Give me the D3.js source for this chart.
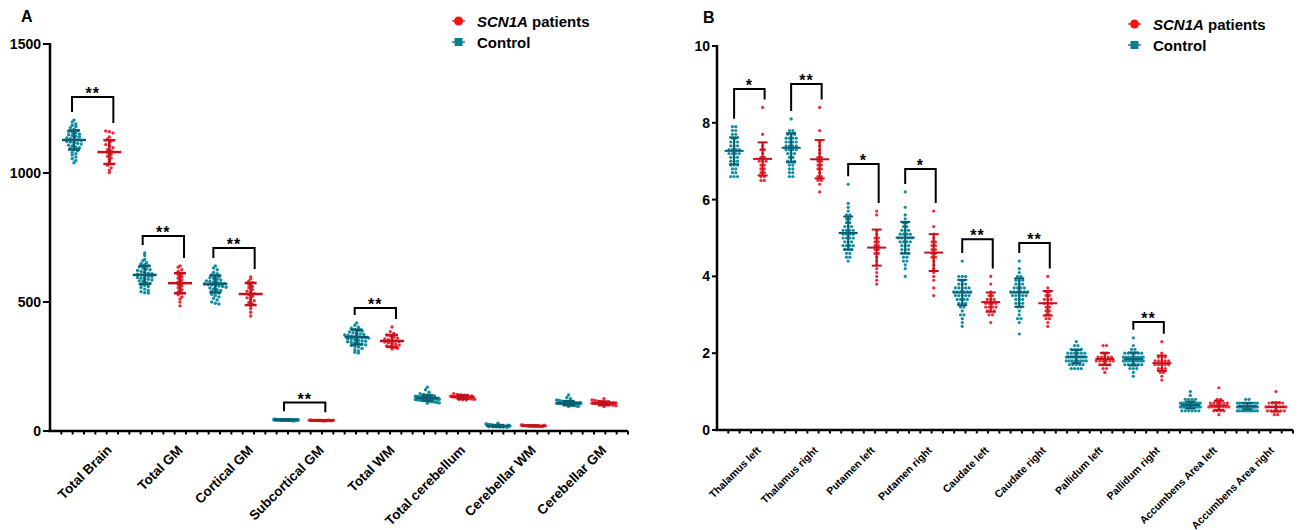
<!DOCTYPE html>
<html>
<head>
<meta charset="utf-8">
<script src="https://cdn.jsdelivr.net/npm/d3@7"></script>
<style>
  body { margin: 0; background: #fff; }
  svg { display: block; font-family: Arial, 'Liberation Sans', sans-serif; }
</style>
</head>
<body>
<svg id="viz"></svg>
<script>
// ---------- DATA: panel A (volumes) ----------
const catsA = ['Total Brain', 'Total GM', 'Cortical GM', 'Subcortical GM', 'Total WM',
  'Total cerebellum', 'Cerebellar WM', 'Cerebellar GM'];
const ticksA = [0, 500, 1000, 1500];

const ctrlA = [
  [1205, 1198, 1190, 1185, 1180, 1176, 1170, 1165, 1162, 1158, 1155, 1150, 1148, 1145, 1142, 1140, 1136, 1133, 1130, 1128,
   1126, 1122, 1120, 1118, 1115, 1112, 1108, 1105, 1100, 1098, 1095, 1090, 1086, 1080, 1075, 1070, 1062, 1055, 1048, 1040],
  [690, 680, 665, 660, 652, 648, 645, 640, 636, 632, 628, 625, 622, 618, 615, 612, 610, 608, 605, 603,
   600, 598, 595, 592, 590, 588, 585, 582, 580, 575, 572, 568, 565, 560, 556, 550, 545, 540, 536, 535],
  [640, 632, 625, 615, 610, 605, 600, 597, 594, 591, 588, 585, 582, 580, 578, 576, 574, 572, 570, 568,
   566, 564, 562, 560, 557, 554, 551, 548, 545, 542, 539, 535, 530, 525, 520, 515, 508, 500, 495, 492],
  [46, 46, 45, 45, 45, 44, 44, 44, 44, 44, 43, 43, 43, 43, 43, 43, 43, 43, 42, 42,
   42, 42, 42, 42, 42, 41, 41, 41, 41, 41, 40, 40, 40, 44, 45, 43, 42, 44, 43, 42],
  [419, 410, 402, 398, 393, 390, 387, 384, 381, 378, 376, 374, 372, 370, 368, 366, 365, 363, 361, 360,
   358, 356, 354, 352, 350, 348, 346, 344, 342, 340, 337, 334, 331, 328, 325, 320, 315, 310, 305, 302],
  [170, 160, 150, 145, 142, 140, 138, 136, 135, 134, 133, 132, 131, 130, 130, 129, 128, 128, 127, 126,
   126, 125, 124, 124, 123, 122, 121, 120, 120, 119, 118, 117, 116, 115, 114, 113, 112, 110, 109, 108],
  [30, 27, 26, 25, 24, 24, 23, 23, 22, 22, 22, 21, 21, 21, 21, 20, 20, 20, 20, 20,
   19, 19, 19, 19, 18, 18, 18, 18, 17, 17, 17, 16, 16, 16, 15, 15, 14, 22, 21, 19],
  [140, 130, 125, 120, 118, 116, 115, 114, 113, 112, 111, 110, 110, 109, 109, 108, 108, 107, 107, 106,
   106, 105, 105, 104, 104, 103, 103, 102, 102, 101, 100, 100, 99, 98, 97, 96, 95, 110, 108, 106]
];
const patA = [
  [1163, 1160, 1155, 1140, 1132, 1125, 1118, 1110, 1105, 1098, 1090, 1085, 1080, 1072, 1065, 1058, 1050, 1040, 1030, 1020, 1010, 1002],
  [640, 635, 625, 618, 610, 605, 598, 592, 585, 578, 572, 568, 562, 555, 548, 540, 535, 528, 520, 512, 500, 485],
  [597, 590, 582, 575, 568, 560, 555, 548, 542, 536, 532, 528, 522, 516, 510, 505, 498, 492, 485, 475, 460, 446],
  [42, 42, 42, 41, 41, 41, 41, 41, 41, 41, 41, 40, 40, 40, 40, 40, 41, 42, 41, 40, 41, 42],
  [403, 385, 378, 372, 368, 364, 360, 357, 354, 351, 349, 347, 345, 342, 339, 336, 333, 330, 327, 324, 321, 318],
  [145, 142, 140, 138, 137, 136, 135, 134, 133, 132, 131, 130, 129, 128, 127, 126, 125, 124, 123, 122, 121, 120],
  [23, 22, 22, 21, 21, 21, 20, 20, 20, 20, 20, 19, 19, 19, 19, 18, 18, 18, 17, 17, 22, 20],
  [125, 120, 118, 116, 115, 114, 113, 112, 111, 110, 110, 109, 108, 107, 106, 105, 104, 103, 102, 100, 98, 95]
];
const ctrlMeanA = [1128, 605, 570, 43, 364, 128, 20, 108];
const ctrlSdA = [37, 35, 33, 1.5, 29, 10, 3, 8];
const patMeanA = [1081, 573, 531, 41, 349, 132, 20, 107];
const patSdA = [46, 39, 43, 1, 23, 7, 1.5, 7];
// significance brackets: category index, stars, bracket level (data units)
const sigIndexA = [0, 1, 2, 3, 4];
const sigStarsA = ['**', '**', '**', '**', '**'];
const sigLevelA = [1295, 756, 709, 110, 477];

// ---------- DATA: panel B (subcortical structures) ----------
const catsB = ['Thalamus left', 'Thalamus right', 'Putamen left', 'Putamen right', 'Caudate left',
  'Caudate right', 'Pallidum left', 'Pallidum right', 'Accumbens Area left', 'Accumbens Area right'];
const ticksB = [0, 2, 4, 6, 8, 10];

const ctrlB = [
  [7.9, 7.9, 7.8, 7.8, 7.7, 7.7, 7.6, 7.6, 7.5, 7.5, 7.5, 7.4, 7.4, 7.4, 7.3, 7.3, 7.3, 7.3, 7.2, 7.2,
   7.2, 7.2, 7.1, 7.1, 7.1, 7.0, 7.0, 7.0, 6.9, 6.9, 6.9, 6.8, 6.8, 6.7, 6.7, 6.6, 6.6, 6.6],
  [8.1, 7.8, 7.8, 7.7, 7.7, 7.7, 7.6, 7.6, 7.6, 7.5, 7.5, 7.5, 7.5, 7.4, 7.4, 7.4, 7.3, 7.3, 7.3, 7.2,
   7.2, 7.2, 7.1, 7.1, 7.0, 7.0, 7.0, 6.9, 6.9, 6.8, 6.8, 6.7, 6.7, 6.6, 6.6, 7.4, 7.3, 7.6],
  [6.4, 5.9, 5.8, 5.7, 5.6, 5.6, 5.5, 5.5, 5.4, 5.4, 5.3, 5.3, 5.3, 5.2, 5.2, 5.2, 5.1, 5.1, 5.1, 5.1,
   5.0, 5.0, 5.0, 4.9, 4.9, 4.9, 4.8, 4.8, 4.8, 4.7, 4.7, 4.7, 4.6, 4.6, 4.5, 4.5, 4.4, 5.2, 5.0, 4.8],
  [6.2, 5.8, 5.6, 5.5, 5.4, 5.4, 5.3, 5.3, 5.2, 5.2, 5.2, 5.1, 5.1, 5.1, 5.0, 5.0, 5.0, 5.0, 4.9, 4.9,
   4.9, 4.8, 4.8, 4.8, 4.7, 4.7, 4.7, 4.6, 4.6, 4.6, 4.5, 4.5, 4.4, 4.4, 4.3, 4.2, 4.0, 5.0, 4.9, 5.1],
  [4.4, 4.0, 4.0, 4.0, 3.9, 3.9, 3.8, 3.8, 3.8, 3.7, 3.7, 3.7, 3.7, 3.6, 3.6, 3.6, 3.6, 3.6, 3.5, 3.5,
   3.5, 3.5, 3.4, 3.4, 3.4, 3.4, 3.3, 3.3, 3.3, 3.2, 3.2, 3.1, 3.0, 3.0, 2.9, 2.8, 2.7, 3.6, 3.5, 3.7],
  [4.4, 4.2, 4.1, 4.0, 4.0, 3.9, 3.9, 3.9, 3.8, 3.8, 3.8, 3.7, 3.7, 3.7, 3.6, 3.6, 3.6, 3.6, 3.5, 3.5,
   3.5, 3.5, 3.4, 3.4, 3.4, 3.3, 3.3, 3.3, 3.2, 3.2, 3.1, 3.0, 2.9, 2.9, 2.8, 2.5, 3.6, 3.7, 3.5, 3.6],
  [2.3, 2.2, 2.2, 2.1, 2.1, 2.1, 2.0, 2.0, 2.0, 2.0, 2.0, 1.9, 1.9, 1.9, 1.9, 1.9, 1.9, 1.9, 1.8, 1.8,
   1.8, 1.8, 1.8, 1.8, 1.7, 1.7, 1.7, 1.7, 1.6, 1.6, 1.6, 1.6, 2.0, 1.9, 1.8, 1.9, 2.1, 1.7, 1.8, 1.9],
  [2.4, 2.2, 2.1, 2.1, 2.0, 2.0, 2.0, 2.0, 1.9, 1.9, 1.9, 1.9, 1.9, 1.9, 1.8, 1.8, 1.8, 1.8, 1.8, 1.8,
   1.8, 1.7, 1.7, 1.7, 1.7, 1.7, 1.6, 1.6, 1.6, 1.5, 1.4, 1.9, 1.8, 2.0, 1.8, 1.9, 1.7, 1.8, 1.9, 2.0],
  [1.0, 0.9, 0.8, 0.8, 0.8, 0.7, 0.7, 0.7, 0.7, 0.7, 0.7, 0.7, 0.7, 0.6, 0.6, 0.6, 0.6, 0.6, 0.6, 0.6,
   0.6, 0.6, 0.6, 0.6, 0.5, 0.5, 0.5, 0.5, 0.5, 0.6, 0.7, 0.6, 0.7, 0.6, 0.5, 0.8, 0.6, 0.7, 0.6, 0.7],
  [0.8, 0.8, 0.7, 0.7, 0.7, 0.7, 0.7, 0.7, 0.7, 0.6, 0.6, 0.6, 0.6, 0.6, 0.6, 0.6, 0.6, 0.6, 0.6, 0.6,
   0.6, 0.5, 0.5, 0.5, 0.5, 0.5, 0.5, 0.5, 0.5, 0.6, 0.7, 0.6, 0.5, 0.6, 0.7, 0.6, 0.5, 0.6, 0.7, 0.6]
];
const patB = [
  [8.4, 7.7, 7.4, 7.3, 7.3, 7.2, 7.1, 7.1, 7.0, 7.0, 7.0, 6.9, 6.9, 6.8, 6.8, 6.7, 6.7, 6.6, 6.6, 6.5, 6.5],
  [8.4, 7.8, 7.5, 7.4, 7.3, 7.2, 7.1, 7.1, 7.0, 7.0, 6.9, 6.9, 6.8, 6.8, 6.7, 6.6, 6.6, 6.5, 6.5, 6.4, 6.2],
  [5.7, 5.6, 5.2, 5.1, 5.0, 5.0, 4.9, 4.9, 4.8, 4.8, 4.7, 4.7, 4.6, 4.6, 4.5, 4.4, 4.3, 4.2, 4.1, 4.0, 3.9, 3.8],
  [5.7, 5.3, 5.1, 5.0, 4.9, 4.9, 4.8, 4.8, 4.7, 4.7, 4.6, 4.6, 4.5, 4.5, 4.4, 4.3, 4.2, 4.1, 4.0, 3.9, 3.7, 3.5],
  [4.0, 3.8, 3.6, 3.5, 3.5, 3.4, 3.4, 3.4, 3.3, 3.3, 3.3, 3.3, 3.2, 3.2, 3.2, 3.1, 3.1, 3.1, 3.0, 3.0, 2.8, 3.2],
  [4.0, 3.7, 3.6, 3.6, 3.5, 3.5, 3.4, 3.4, 3.3, 3.3, 3.3, 3.2, 3.2, 3.1, 3.1, 3.0, 3.0, 2.9, 2.9, 2.8, 2.7, 3.4],
  [2.2, 2.2, 2.0, 2.0, 1.9, 1.9, 1.9, 1.9, 1.8, 1.8, 1.8, 1.8, 1.8, 1.7, 1.7, 1.7, 1.7, 1.6, 1.6, 1.5, 1.9, 1.8],
  [2.3, 2.0, 1.9, 1.9, 1.9, 1.8, 1.8, 1.8, 1.8, 1.7, 1.7, 1.7, 1.7, 1.6, 1.6, 1.6, 1.5, 1.5, 1.4, 1.3, 1.8, 1.7],
  [1.1, 0.8, 0.8, 0.7, 0.7, 0.7, 0.7, 0.7, 0.6, 0.6, 0.6, 0.6, 0.6, 0.6, 0.5, 0.5, 0.5, 0.5, 0.4, 0.6, 0.7, 0.6],
  [1.0, 0.7, 0.7, 0.7, 0.7, 0.6, 0.6, 0.6, 0.6, 0.6, 0.6, 0.5, 0.5, 0.5, 0.5, 0.5, 0.4, 0.4, 0.6, 0.7, 0.6, 0.5]
];
const ctrlMeanB = [7.27, 7.35, 5.13, 5.01, 3.58, 3.58, 1.91, 1.85, 0.65, 0.62];
const ctrlSdB = [0.35, 0.38, 0.43, 0.41, 0.33, 0.37, 0.17, 0.17, 0.09, 0.08];
const patMeanB = [7.06, 7.05, 4.75, 4.62, 3.33, 3.30, 1.85, 1.74, 0.64, 0.60];
const patSdB = [0.43, 0.5, 0.47, 0.48, 0.25, 0.32, 0.16, 0.2, 0.12, 0.12];
const sigIndexB = [0, 1, 2, 3, 4, 5, 7];
const sigStarsB = ['*', '**', '*', '*', '**', '**', '**'];
const sigLevelB = [8.88, 9.01, 6.93, 6.80, 4.97, 4.87, 2.81];

const legendNames = ['SCN1A', 'Control'];

// ---------- STYLE ----------
const ctrlDot = '#0f8ea2';
const ctrlBar = '#0a5d71';
const patDot = '#f22a38';
const patBar = '#c4121c';

const svg = d3.select('#viz').attr('width', 1298).attr('height', 530);
svg.append('rect').attr('width', 1298).attr('height', 530).attr('fill', '#fff');

// GraphPad-like scatter: points grouped in rows, spread horizontally
const swarm = (vals, y, cx, rowH, step, maxW) => {
  const pts = vals.map((v) => ({ v: v, py: y(v) }));
  const rows = d3.groups(pts, (p) => Math.round(p.py / rowH));
  rows.forEach(([, ps]) => {
    const n = ps.length;
    const s = n > 1 ? Math.min(step, maxW / (n - 1)) : 0;
    ps.forEach((p, i) => {
      p.px = cx + (i - (n - 1) / 2) * s;
    });
  });
  return pts;
};

const drawPanel = (o) => {
  const g = svg.append('g');
  const keys = [];
  o.cats.forEach((c, i) => keys.push(i + 'c', i + 'p'));
  const x = d3.scalePoint().domain(keys).range([o.x0, o.x1]).padding(o.pad);
  const y = d3.scaleLinear().domain([0, o.ticks[o.ticks.length - 1]]).range([o.y0, o.yTop]);
  const rowH = o.rowH || Math.abs(y(0) - y(0.1));

  // panel letter
  g.append('text').attr('x', o.letterX).attr('y', o.letterY)
    .style('font-size', '16px').style('font-weight', 'bold').text(o.letter);

  // y axis
  g.append('line').attr('x1', o.x0).attr('x2', o.x0).attr('y1', o.yTop - 1).attr('y2', o.y0 + 1)
    .attr('stroke', '#000').attr('stroke-width', 2.5);
  o.ticks.forEach((t) => {
    g.append('line').attr('x1', o.x0 - o.tickLen).attr('x2', o.x0).attr('y1', y(t)).attr('y2', y(t))
      .attr('stroke', '#000').attr('stroke-width', 2);
    g.append('text').attr('x', o.x0 - o.tickLen - 2).attr('y', y(t) + 5)
      .attr('text-anchor', 'end').style('font-size', '14px').style('font-weight', 'bold').text(t);
  });

  // x axis with small ticks
  g.append('line').attr('x1', o.x0 - 2).attr('x2', o.x1).attr('y1', o.y0).attr('y2', o.y0)
    .attr('stroke', '#000').attr('stroke-width', 2.5);
  const minor = d3.scaleLinear().domain([0, 51]).range([o.x0, o.x1]);
  d3.range(1, 52).forEach((k) => {
    g.append('line').attr('x1', minor(k)).attr('x2', minor(k)).attr('y1', o.y0).attr('y2', o.y0 + 3.5)
      .attr('stroke', '#000').attr('stroke-width', 2);
  });

  // category labels
  o.cats.forEach((c, i) => {
    const cx = (x(i + 'c') + x(i + 'p')) / 2 + o.labelDx;
    g.append('text').attr('transform', 'translate(' + cx + ',' + o.labelY + ') rotate(-45)')
      .attr('text-anchor', 'end').style('font-size', o.labelSize).style('font-weight', 'bold').text(c);
  });

  // dots + error bars
  const groups = [
    { vals: o.ctrl, mean: o.ctrlMean, sd: o.ctrlSd, k: 'c', dot: ctrlDot, bar: ctrlBar },
    { vals: o.pat, mean: o.patMean, sd: o.patSd, k: 'p', dot: patDot, bar: patBar }
  ];
  groups.forEach((gr) => {
    gr.vals.forEach((vals, i) => {
      const cx = x(i + gr.k);
      const pts = swarm(vals, y, cx, rowH, o.step, o.maxW);
      g.append('g').selectAll('circle').data(pts).enter().append('circle')
        .attr('cx', (d) => d.px).attr('cy', (d) => d.py).attr('r', o.r).attr('fill', gr.dot);
    });
  });
  groups.forEach((gr) => {
    gr.mean.forEach((m, i) => {
      const cx = x(i + gr.k);
      const hi = y(m + gr.sd[i]);
      const lo = y(m - gr.sd[i]);
      const eb = g.append('g').attr('stroke', gr.bar).attr('stroke-width', o.barW).attr('fill', 'none');
      eb.append('line').attr('x1', cx).attr('x2', cx).attr('y1', hi).attr('y2', lo);
      eb.append('line').attr('x1', cx - o.capW / 2).attr('x2', cx + o.capW / 2).attr('y1', hi).attr('y2', hi);
      eb.append('line').attr('x1', cx - o.capW / 2).attr('x2', cx + o.capW / 2).attr('y1', lo).attr('y2', lo);
      eb.append('line').attr('x1', cx - o.meanW / 2).attr('x2', cx + o.meanW / 2).attr('y1', y(m)).attr('y2', y(m));
    });
  });

  // significance brackets
  o.sigIndex.forEach((i, j) => {
    const xl = x(i + 'c') + o.brL;
    const xr = x(i + 'p') + o.brR;
    const top = y(o.sigLevel[j]);
    const bl = y(d3.max(o.ctrl[i])) - 8;
    const br = y(d3.max(o.pat[i])) - 8;
    g.append('path').attr('d', 'M' + xl + ',' + bl + 'V' + top + 'H' + xr + 'V' + br)
      .attr('fill', 'none').attr('stroke', '#000').attr('stroke-width', 2);
    g.append('text').attr('x', (xl + xr) / 2).attr('y', top + 2).attr('text-anchor', 'middle')
      .style('font-size', '16px').style('font-weight', 'bold').style('letter-spacing', '1px')
      .text(o.sigStars[j]);
  });

  // legend
  const lg = g.append('g').attr('transform', 'translate(' + o.legX + ',' + o.legY + ')');
  [0, 1].forEach((k) => {
    const yy = k * 21;
    lg.append('line').attr('x1', -6).attr('x2', 7).attr('y1', yy).attr('y2', yy)
      .attr('stroke', '#666').attr('stroke-width', 1.5);
    if (k === 0) {
      lg.append('circle').attr('cx', 0.5).attr('cy', yy).attr('r', 4.5).attr('fill', '#ff1010');
    } else {
      lg.append('rect').attr('x', -3.5).attr('y', yy - 4).attr('width', 8).attr('height', 8).attr('fill', '#087f92');
    }
    const t = lg.append('text').attr('x', 19).attr('y', yy + 6)
      .style('font-size', '15px').style('font-weight', 'bold');
    if (k === 0) {
      t.append('tspan').style('font-style', 'italic').text(legendNames[0]);
      t.append('tspan').text(' patients');
    } else {
      t.text(legendNames[1]);
    }
  });
};

drawPanel({
  letter: 'A', letterX: 21, letterY: 22,
  cats: catsA, ticks: ticksA, ctrl: ctrlA, pat: patA,
  ctrlMean: ctrlMeanA, ctrlSd: ctrlSdA, patMean: patMeanA, patSd: patSdA,
  sigIndex: sigIndexA, sigStars: sigStarsA, sigLevel: sigLevelA,
  x0: 50, x1: 628, pad: 0.68, y0: 431, yTop: 44, tickLen: 7,
  rowH: 3.4, step: 3.6, maxW: 24, r: 1.7,
  barW: 2.5, capW: 12, meanW: 24,
  brL: -2, brR: 4,
  labelDx: 21, labelY: 451, labelSize: '13.5px',
  legX: 458, legY: 21
});

drawPanel({
  letter: 'B', letterX: 703, letterY: 23,
  cats: catsB, ticks: ticksB, ctrl: ctrlB, pat: patB,
  ctrlMean: ctrlMeanB, ctrlSd: ctrlSdB, patMean: patMeanB, patSd: patSdB,
  sigIndex: sigIndexB, sigStars: sigStarsB, sigLevel: sigLevelB,
  x0: 717, x1: 1293, pad: 0.6, y0: 430, yTop: 46, tickLen: 5,
  step: 3.4, maxW: 20, r: 1.6,
  barW: 2, capW: 10, meanW: 19,
  brL: 0, brR: 2,
  labelDx: 13, labelY: 451, labelSize: '10.5px',
  legX: 1134, legY: 24
});
</script>
</body>
</html>
